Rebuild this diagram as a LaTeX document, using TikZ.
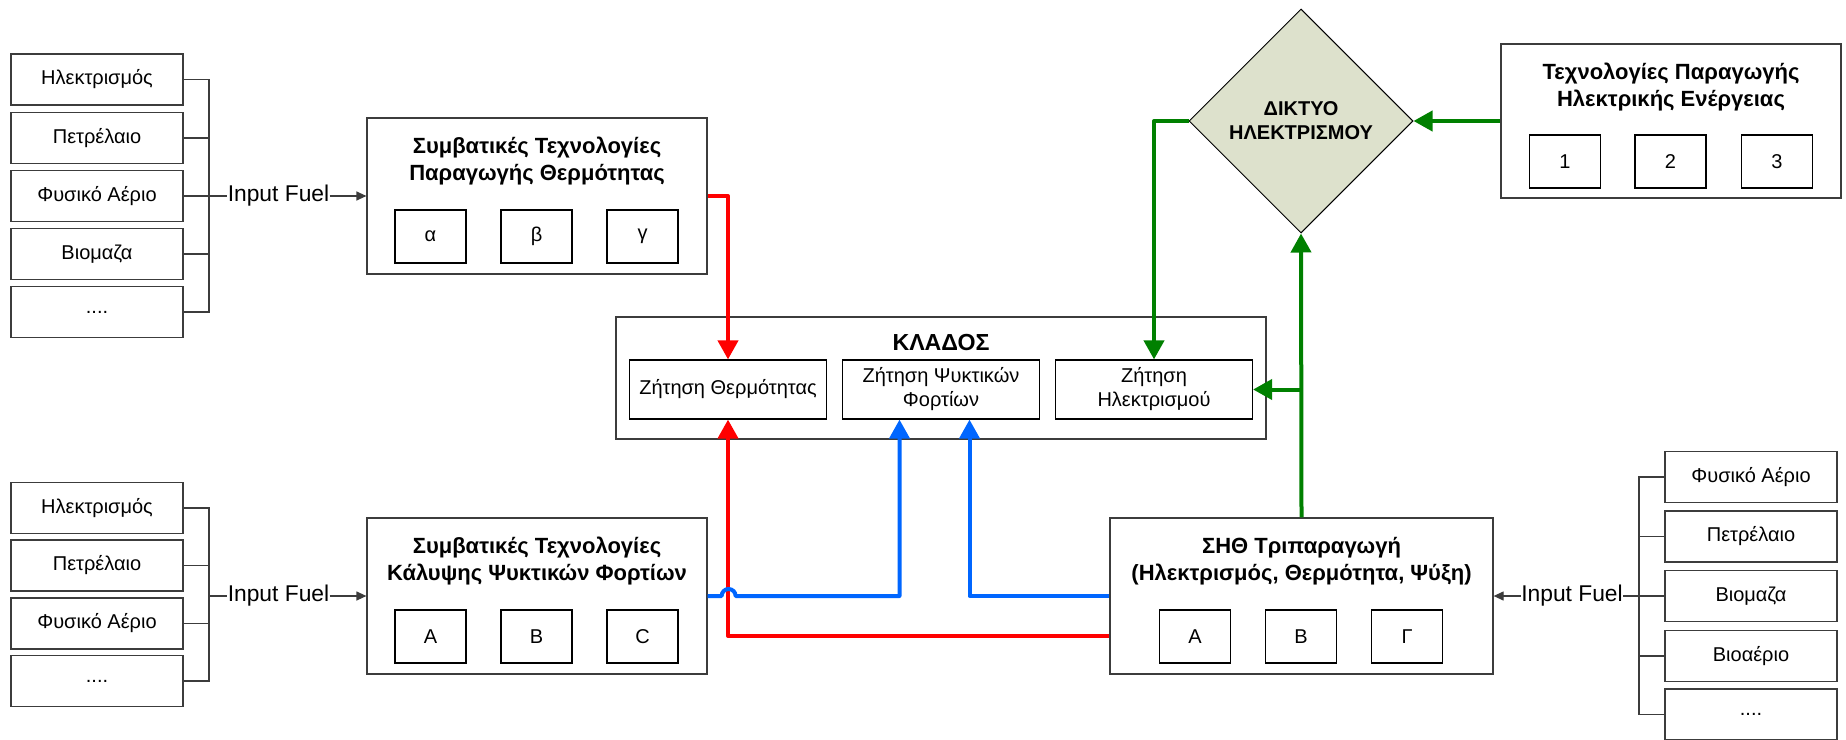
\documentclass[tikz,border=0pt]{standalone}
\usepackage{fontspec}
\setmainfont{Liberation Sans}
\usetikzlibrary{shapes.geometric,arrows.meta,calc}
\definecolor{cred}{RGB}{255,0,0}
\definecolor{cblue}{RGB}{0,102,255}
\definecolor{cgreen}{RGB}{0,128,0}
\definecolor{dfill}{RGB}{221,225,204}
\definecolor{bord}{RGB}{60,60,60}
\begin{document}
\begin{tikzpicture}[x=0.5pt,y=-0.5pt,
  box/.style={draw=bord,line width=0.6pt,inner sep=0pt,align=center},
  fuel/.style={box,minimum width=86pt,minimum height=25.5pt,font=\fontsize{10}{12}\selectfont},
  big/.style={box,minimum width=170pt,minimum height=78pt},
  tech/.style={box,draw=black,minimum width=35.5pt,minimum height=26.5pt,font=\fontsize{10}{12}\selectfont},
  ttl/.style={inner sep=0pt,align=center,font=\bfseries\fontsize{11}{13.5}\selectfont},
  dem/.style={box,draw=black,minimum width=98.5pt,minimum height=29.5pt,font=\fontsize{10}{12}\selectfont},
  feed/.style={draw=bord,line width=0.6pt},
  inp/.style={inner sep=0pt,font=\fontsize{11.4}{13}\selectfont},
  tipk/.style={-{Triangle[length=5pt,width=4.5pt]}},
  flow/.style={line width=2pt,line join=round,-{Triangle[length=9.5pt,width=10pt]}},
]
\fill[white] (0,0) rectangle (1846,739);
\useasboundingbox (0,0) rectangle (1846,739);

% ---------- left fuel group (top)
\node[fuel] (l1) at (97,79.5) {Ηλεκτρισμός};
\node[fuel] (l2) at (97,138) {Πετρέλαιο};
\node[fuel] (l3) at (97,196) {Φυσικό Αέριο};
\node[fuel] (l4) at (97,254) {Βιομαζα};
\node[fuel] (l5) at (97,312) {....};
\coordinate (busA) at (209,196);
\draw[feed] (l1.east) -| (busA |- l5.east) -- (l5.east);
\draw[feed] (l2.east) -- (l2.east -| busA);
\draw[feed] (l4.east) -- (l4.east -| busA);
\node[inp] (if1) at (278.5,196) {Input Fuel};
\draw[feed] (l3.east) -- (if1.west);

% ---------- left fuel group (bottom)
\node[fuel] (l6) at (97,508) {Ηλεκτρισμός};
\node[fuel] (l7) at (97,565.5) {Πετρέλαιο};
\node[fuel] (l8) at (97,623.5) {Φυσικό Αέριο};
\node[fuel] (l9) at (97,681) {....};
\coordinate (busB) at (209,596);
\draw[feed] (l6.east) -| (busB |- l9.east) -- (l9.east);
\draw[feed] (l7.east) -- (l7.east -| busB);
\draw[feed] (l8.east) -- (l8.east -| busB);
\node[inp] (if2) at (278.5,596) {Input Fuel};
\draw[feed] (busB) -- (if2.west);

% ---------- right fuel group
\node[fuel] (r1) at (1751,477) {Φυσικό Αέριο};
\node[fuel] (r2) at (1751,536.5) {Πετρέλαιο};
\node[fuel] (r3) at (1751,596) {Βιομαζα};
\node[fuel] (r4) at (1751,656) {Βιοαέριο};
\node[fuel] (r5) at (1751,714.5) {....};
\coordinate (busC) at (1639,596);
\draw[feed] (r1.west) -| (busC |- r5.west) -- (r5.west);
\draw[feed] (r2.west) -- (r2.west -| busC);
\draw[feed] (r4.west) -- (r4.west -| busC);
\node[inp] (if3) at (1572,596) {Input Fuel};
\draw[feed] (r3.west) -- (if3.east);

% ---------- heat technologies
\node[big] (heat) at (537,196) {};
\node[ttl] (heatT) at (537,161.5) {Συμβατικές Τεχνολογίες\\Παραγωγής Θερμότητας};
\node[tech] (ha) at (430.5,236.5) {α};
\node[tech] (hb) at (536.5,236.5) {β};
\node[tech] (hc) at (642.5,236.5) {γ};

% ---------- cooling technologies
\node[big] (cool) at (537,596) {};
\node[ttl] (coolT) at (537,561.5) {Συμβατικές Τεχνολογίες\\Κάλυψης Ψυκτικών Φορτίων};
\node[tech] (ca) at (430.5,636.5) {A};
\node[tech] (cb) at (536.5,636.5) {B};
\node[tech] (cc) at (642.5,636.5) {C};

% ---------- CHP trigeneration
\node[big,minimum width=191.5pt] (sht) at (1301.5,596) {};
\node[ttl] (shtT) at (1301.5,561) {ΣΗΘ Τριπαραγωγή\\(Ηλεκτρισμός, Θερμότητα, Ψύξη)};
\node[tech] (sa) at (1195,636.5) {A};
\node[tech] (sb) at (1301,636.5) {B};
\node[tech] (sc) at (1407,636.5) {Γ};

% ---------- electricity technologies
\node[big,minimum height=77pt] (elec) at (1671,121) {};
\node[ttl] (elecT) at (1671,87) {Τεχνολογίες Παραγωγής\\Ηλεκτρικής Ενέργειας};
\node[tech] (e1) at (1565,161.5) {1};
\node[tech] (e2) at (1670.5,161.5) {2};
\node[tech] (e3) at (1777,161.5) {3};

% ---------- sector
\node[box,minimum width=325pt,minimum height=61pt] (klados) at (941,378) {};
\node[ttl,font=\bfseries\fontsize{11.6}{13.5}\selectfont] (kladosT) at (941,343) {ΚΛΑΔΟΣ};
\node[dem] (kb1) at (728,389.5) {Ζήτηση Θερμότητας};
\node[dem] (kb2) at (941,389.5) {Ζήτηση Ψυκτικών\\Φορτίων};
\node[dem] (kb3) at (1154,389.5) {Ζήτηση\\Ηλεκτρισμού};

% ---------- grid
\node[diamond,draw=black,line width=0.5pt,fill=dfill,inner sep=0pt,minimum width=112pt,minimum height=112pt,aspect=1,align=center,font=\bfseries\fontsize{10}{12}\selectfont] (grid) at (1301,121) {ΔΙΚΤΥΟ\\ΗΛΕΚΤΡΙΣΜΟΥ};

% ---------- black input arrows
\draw[feed,tipk] (if1.east) -- (heat.west);
\draw[feed,tipk] (if2.east) -- (cool.west);
\draw[feed,tipk] (if3.west) -- (sht.east);

% ---------- flows
\draw[flow,cred] (heat.east) -| (kb1.north);
\draw[flow,cred] ([yshift=-20pt]sht.west) -| (kb1.south);
\draw[flow,cblue] (cool.east) -- ([xshift=7pt]cool.east) arc[start angle=180,end angle=0,radius=3.5pt] -| ([xshift=-20.75pt]kb2.south);
\draw[flow,cblue] (sht.west) -| ([xshift=14.25pt]kb2.south);
\draw[flow,cgreen] (elec.west) -- (grid.east);
\draw[flow,cgreen] (sht.north) -- (grid.south);
\draw[flow,cgreen] (sht.north |- kb3.east) -- (kb3.east);
\draw[flow,cgreen] (grid.west) -| (kb3.north);
\end{tikzpicture}
\end{document}
